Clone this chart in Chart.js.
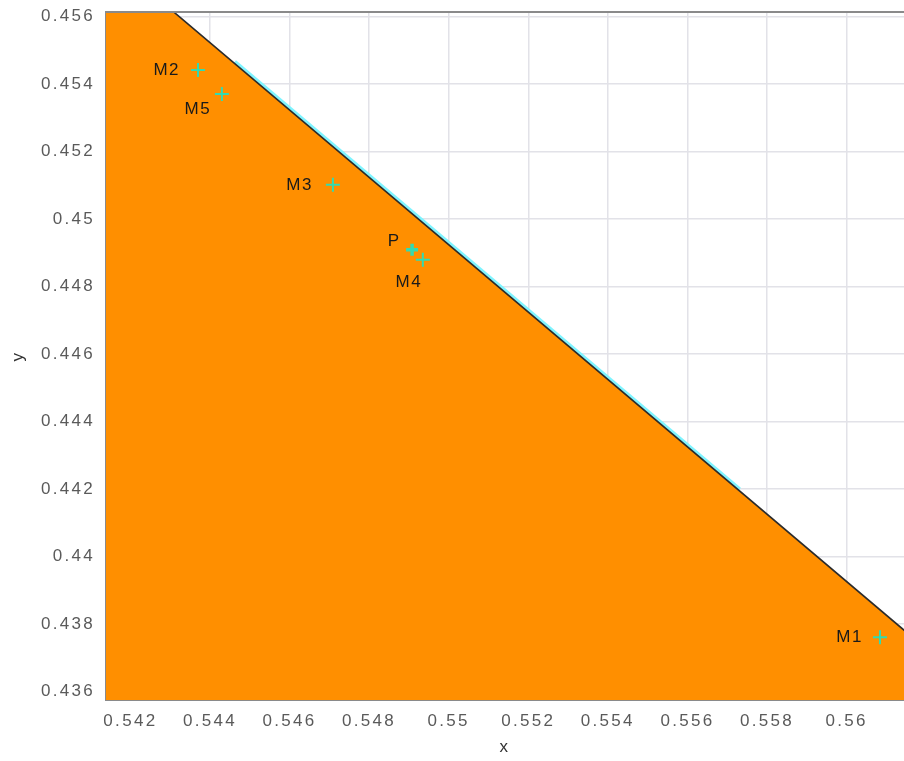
<!DOCTYPE html>
<html>
<head>
<meta charset="utf-8">
<script src="https://cdn.jsdelivr.net/npm/chart.js@4/dist/chart.umd.min.js"></script>
<style>
  html, body { margin: 0; padding: 0; background: #fff; }
  #wrap { width: 904px; height: 761px; }
</style>
</head>
<body>
<div id="wrap"><canvas id="chart" width="904" height="761"></canvas></div>
<script>
// marked points
const pointNames = ['M1', 'M2', 'M3', 'M4', 'M5', 'P'];
const pointX = [0.56084, 0.54370, 0.54709, 0.54935, 0.54430, 0.54908];
const pointY = [0.43761, 0.45441, 0.45101, 0.44879, 0.45370, 0.44909];

// boundary of the shaded region
const edgeX = [0.5410, 0.54272, 0.5620];
const edgeY = [0.4565, 0.4565, 0.437265];

// cyan frontier segment along the edge
const frontX = [0.54463, 0.55732];
const frontY = [0.45467, 0.44200];

const xTicks = [0.542, 0.544, 0.546, 0.548, 0.55, 0.552, 0.554, 0.556, 0.558, 0.56];
const yTicks = [0.436, 0.438, 0.44, 0.442, 0.444, 0.446, 0.448, 0.45, 0.452, 0.454, 0.456];

// label placement next to each marker (px): dx, dy, align
const labelPos = [
  [-17, 0, 'right'], [-18, 0, 'right'], [-20, 0, 'right'],
  [-14, 23, 'center'], [-24, 15, 'center'], [-18, -8, 'center']
];

const toPts = (xs, ys) => xs.map((x, i) => ({ x: x, y: ys[i] }));
const fmt = v => String(+v.toFixed(3));
const FONT = '"Liberation Sans", Arial, sans-serif';

const spacing = {
  id: 'spacing',
  beforeLayout(chart) { chart.ctx.letterSpacing = '2.3px'; },
  beforeDraw(chart) { chart.ctx.letterSpacing = '2.3px'; }
};

const frame = {
  id: 'frame',
  afterDatasetsDraw(chart) {
    const { ctx, chartArea: a } = chart;
    ctx.save();
    ctx.strokeStyle = '#8a8a8a';
    ctx.lineWidth = 2;
    ctx.beginPath();
    ctx.moveTo(a.left - 1, a.top);
    ctx.lineTo(a.right, a.top);
    ctx.stroke();
    ctx.restore();
  }
};

const pointLabels = {
  id: 'pointLabels',
  afterDatasetsDraw(chart) {
    const { ctx, scales } = chart;
    ctx.save();
    ctx.letterSpacing = '1.5px';
    ctx.font = '17px ' + FONT;
    ctx.fillStyle = '#1a1a1a';
    ctx.textBaseline = 'middle';
    pointNames.forEach((name, i) => {
      const px = scales.x.getPixelForValue(pointX[i]);
      const py = scales.y.getPixelForValue(pointY[i]);
      const [dx, dy, align] = labelPos[i];
      ctx.textAlign = align;
      ctx.fillText(name, px + dx, py + dy);
    });
    ctx.restore();
  }
};

new Chart(document.getElementById('chart'), {
  type: 'scatter',
  data: {
    datasets: [
      {
        data: toPts(pointX, pointY),
        pointStyle: 'cross',
        borderColor: '#33dbb0',
        backgroundColor: '#33dbb0',
        pointRadius: pointNames.map(n => n === 'P' ? 6 : 7),
        borderWidth: pointNames.map(n => n === 'P' ? 3.5 : 2),
        order: 1
      },
      {
        data: toPts(edgeX, edgeY),
        showLine: true,
        borderColor: '#2b2b2b',
        borderWidth: 1.6,
        backgroundColor: '#ff8f00',
        fill: 'start',
        pointRadius: 0,
        clip: 0,
        order: 3
      },
      {
        data: toPts(frontX, frontY),
        showLine: true,
        borderColor: '#7ff4ff',
        borderWidth: 3,
        pointRadius: 0,
        clip: 0,
        order: 4
      }
    ]
  },
  options: {
    responsive: false,
    animation: false,
    layout: { autoPadding: false, padding: { top: 12, left: 0, right: 0, bottom: 0 } },
    plugins: { legend: { display: false }, tooltip: { enabled: false } },
    scales: {
      x: {
        type: 'linear',
        min: 0.541387,
        max: 0.561444,
        afterFit(s) { s.height = 61; s.paddingLeft = 0; s.paddingRight = 0; },
        afterBuildTicks(s) { s.ticks = xTicks.map(v => ({ value: v })); },
        ticks: {
          includeBounds: false,
          padding: 11,
          color: '#5a5a5a',
          font: { family: FONT, size: 17 },
          maxRotation: 0,
          autoSkip: false,
          callback: fmt
        },
        grid: { color: '#e2e2e8', lineWidth: 1.5, drawTicks: false },
        border: { display: true, color: '#8a8a8a', width: 2 },
        title: {
          display: true,
          text: 'x',
          color: '#333',
          font: { family: FONT, size: 17 },
          padding: { top: 0, bottom: 3 }
        }
      },
      y: {
        type: 'linear',
        min: 0.43575,
        max: 0.45613,
        afterFit(s) { s.width = 106; s.paddingTop = 0; s.paddingBottom = 0; },
        afterBuildTicks(s) { s.ticks = yTicks.map(v => ({ value: v })); },
        ticks: {
          includeBounds: false,
          padding: 11,
          color: '#5a5a5a',
          font: { family: FONT, size: 17 },
          autoSkip: false,
          callback: fmt
        },
        grid: { color: '#e2e2e8', lineWidth: 1.5, drawTicks: false },
        border: { display: true, color: '#8a8a8a', width: 2 },
        title: {
          display: true,
          text: 'y',
          color: '#333',
          font: { family: FONT, size: 17 },
          padding: { top: 8, bottom: 0 }
        }
      }
    }
  },
  plugins: [spacing, frame, pointLabels]
});
</script>
</body>
</html>
